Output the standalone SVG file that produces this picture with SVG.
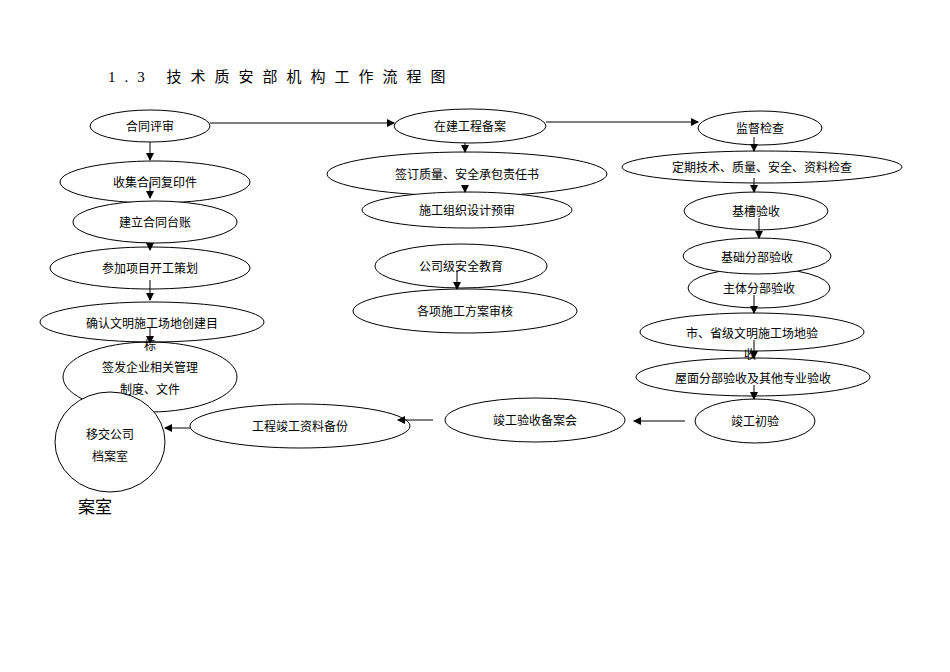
<svg xmlns="http://www.w3.org/2000/svg" width="950" height="672" viewBox="0 0 950 672">
<defs><marker id="a" markerWidth="8" markerHeight="8" refX="7" refY="4" orient="auto" markerUnits="userSpaceOnUse"><path d="M0,0 L8,4 L0,8 z" fill="#000"/></marker></defs>
<style>
ellipse{fill:#fff;stroke:#000;stroke-width:1}
text{font-family:"Liberation Serif","Noto Sans CJK SC",serif;font-size:12px;text-anchor:middle;fill:#000}
.c line{stroke:#000;stroke-width:1;marker-end:url(#a)}
</style>
<rect width="950" height="672" fill="#fff"/>
<text x="108" y="82" style="text-anchor:start;font-size:15px;letter-spacing:9px">1.3 技术质安部机构工作流程图</text>
<text x="78" y="513" style="text-anchor:start;font-size:17px">案室</text>
<g id="n1"><ellipse cx="150" cy="126" rx="60" ry="16"/><text x="150" y="131">合同评审</text></g>
<g id="n2"><ellipse cx="155" cy="182" rx="95" ry="21"/><text x="155" y="187">收集合同复印件</text></g>
<g id="n3"><ellipse cx="155" cy="222" rx="82" ry="21"/><text x="155" y="227">建立合同台账</text></g>
<g id="n4"><ellipse cx="150" cy="268" rx="100" ry="21"/><text x="150" y="273">参加项目开工策划</text></g>
<g id="n6"><ellipse cx="150" cy="377" rx="87" ry="35"/><text x="150" y="372">签发企业相关管理</text><text x="150" y="394">制度、文件</text></g>
<g id="n5"><ellipse cx="152" cy="322" rx="112" ry="20" style="fill:none"/><text x="152" y="328">确认文明施工场地创建目</text><text x="150" y="350">标</text></g>
<g id="n7"><ellipse cx="110" cy="442" rx="55" ry="50"/><text x="110" y="439">移交公司</text><text x="110" y="461">档案室</text></g>
<g id="n8"><ellipse cx="300" cy="426" rx="110" ry="22"/><text x="300" y="431">工程竣工资料备份</text></g>
<g id="n9"><ellipse cx="535" cy="420" rx="90" ry="22"/><text x="535" y="425">竣工验收备案会</text></g>
<g id="m1"><ellipse cx="470" cy="126" rx="76" ry="17"/><text x="470" y="131">在建工程备案</text></g>
<g id="m2"><ellipse cx="467" cy="174" rx="140" ry="22"/><text x="467" y="179">签订质量、安全承包责任书</text></g>
<g id="m3"><ellipse cx="467" cy="210" rx="105" ry="18"/><text x="467" y="215">施工组织设计预审</text></g>
<g id="m4"><ellipse cx="461" cy="266" rx="86" ry="22"/><text x="461" y="271">公司级安全教育</text></g>
<g id="m5"><ellipse cx="465" cy="311" rx="112" ry="22"/><text x="465" y="316">各项施工方案审核</text></g>
<g id="r1"><ellipse cx="760" cy="128" rx="62" ry="17"/><text x="760" y="133">监督检查</text></g>
<g id="r2"><ellipse cx="762" cy="167" rx="140" ry="16"/><text x="762" y="172">定期技术、质量、安全、资料检查</text></g>
<g id="r3"><ellipse cx="756" cy="211" rx="72" ry="19"/><text x="756" y="216">基槽验收</text></g>
<g id="r5"><ellipse cx="759" cy="288" rx="71" ry="20"/><text x="759" y="293">主体分部验收</text></g>
<g id="r4"><ellipse cx="757" cy="256" rx="74" ry="18"/><text x="757" y="262">基础分部验收</text></g>
<g id="r7"><ellipse cx="753" cy="377" rx="117" ry="19"/><text x="753" y="383">屋面分部验收及其他专业验收</text></g>
<g id="r6"><ellipse cx="752" cy="332" rx="112" ry="19" style="fill:none"/><text x="752" y="338">市、省级文明施工场地验</text><text x="750" y="359">收</text></g>
<g id="r8"><ellipse cx="755" cy="421" rx="60" ry="22"/><text x="755" y="426">竣工初验</text></g>
<g class="c">
<line x1="210" y1="123" x2="394" y2="123"/>
<line x1="546" y1="122" x2="698" y2="122"/>
<line x1="150" y1="142" x2="150" y2="160"/>
<line x1="150" y1="182" x2="150" y2="198"/>
<line x1="150" y1="243" x2="150" y2="250"/>
<line x1="150" y1="280" x2="150" y2="300"/>
<line x1="150" y1="327" x2="150" y2="343"/>
<line x1="465" y1="143" x2="465" y2="152"/>
<line x1="465" y1="185" x2="465" y2="192"/>
<line x1="457" y1="270" x2="457" y2="289"/>
<line x1="754" y1="137" x2="754" y2="151"/>
<line x1="754" y1="178" x2="754" y2="192"/>
<line x1="759" y1="218" x2="759" y2="238"/>
<line x1="754" y1="295" x2="754" y2="313"/>
<line x1="754" y1="340" x2="754" y2="358"/>
<line x1="754" y1="385" x2="754" y2="399"/>
<line x1="685" y1="421" x2="634" y2="421"/>
<line x1="433" y1="420" x2="398" y2="420"/>
<line x1="190" y1="428" x2="165" y2="428"/>
</g>
</svg>
